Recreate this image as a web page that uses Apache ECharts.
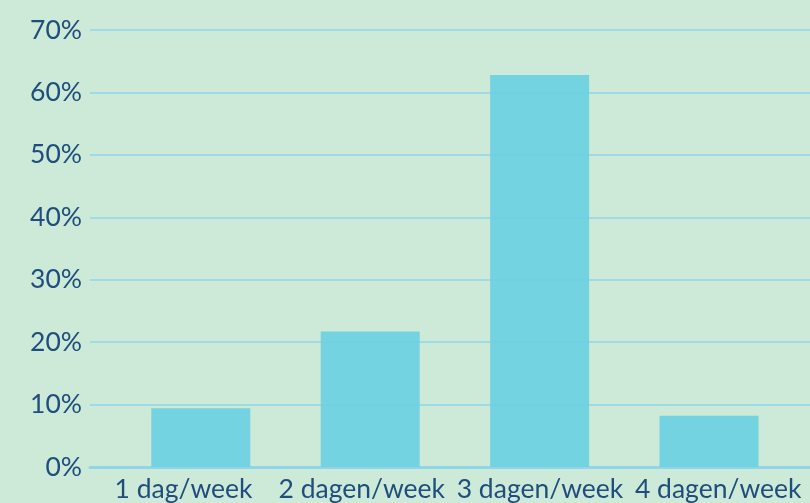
<!DOCTYPE html>
<html>
<head>
<meta charset="utf-8">
<script src="https://cdn.jsdelivr.net/npm/echarts@6/dist/echarts.min.js"></script>
<style>
  html, body { margin: 0; padding: 0; background: #cde9d8; }
  #chart { width: 810px; height: 503px; }
</style>
</head>
<body>
<div id="chart"></div>
<script>
var categories = ['1 dag/week', '2 dagen/week', '3 dagen/week', '4 dagen/week'];
var values = [9.4, 21.7, 62.8, 8.2];
var yTicks = [0, 10, 20, 30, 40, 50, 60, 70];
var catIndex = [0, 1, 2, 3];

var chart = echarts.init(document.getElementById('chart'));

var seriesData = [];
for (var i = 0; i < values.length; i++) {
  seriesData.push([catIndex[i], values[i]]);
}

var labelStyle = {
  color: '#1f4e7c',
  fontFamily: 'Lato',
  fontSize: 26.5
};

var option = {
  backgroundColor: '#cde9d8',
  animation: false,
  grid: { left: 90, right: 0, top: 30, bottom: 36, containLabel: false },
  xAxis: [{
    // axis the bars sit on
    type: 'value',
    min: -0.654,
    max: 3.596,
    splitLine: { show: false },
    axisTick: { show: false },
    axisLabel: { show: false },
    axisLine: { show: true, lineStyle: { color: '#8fd6e8', width: 3 } }
  }, {
    // category labels, spaced a little wider than the bars in the original
    type: 'value',
    position: 'bottom',
    min: -0.525,
    max: 3.515,
    splitLine: { show: false },
    axisTick: { show: false },
    axisLine: { show: false },
    axisLabel: Object.assign({
      customValues: catIndex,
      margin: 9,
      formatter: function (v) { return categories[Math.round(v)]; }
    }, labelStyle)
  }],
  yAxis: {
    type: 'value',
    min: yTicks[0],
    max: yTicks[yTicks.length - 1],
    interval: 10,
    axisLine: { show: false },
    axisTick: { show: false },
    splitLine: { lineStyle: { color: '#8fd6e8', width: 1.5 } },
    axisLabel: Object.assign({ margin: 8, formatter: '{value}%' }, labelStyle)
  },
  series: [{
    type: 'bar',
    xAxisIndex: 0,
    data: seriesData,
    barWidth: 99,
    itemStyle: { color: '#6dd0e2', opacity: 0.92 }
  }]
};

chart.setOption(option);
</script>
</body>
</html>
